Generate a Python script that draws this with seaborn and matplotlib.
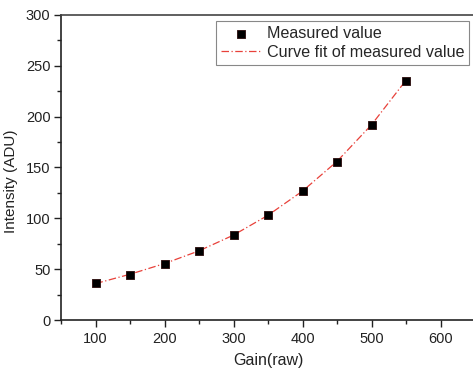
import matplotlib
matplotlib.use("Agg")
import matplotlib.pyplot as plt
import seaborn as sns
import pandas as pd
from matplotlib.ticker import MultipleLocator

gain = [100, 150, 200, 250, 300, 350, 400, 450, 500, 550]
measured = [36.1, 44.6, 55.1, 67.9, 83.9, 103.3, 126.6, 155.7, 191.8, 235.4]
fit = [35.8, 45.0, 55.5, 68.0, 83.5, 103.0, 126.8, 156.0, 192.0, 235.8]

df = pd.DataFrame({"gain": gain, "measured": measured, "fit": fit})

sns.set_style("ticks")
plt.rcParams["font.family"] = ["Liberation Sans", "DejaVu Sans"]

W, H = 473, 370
fig = plt.figure(figsize=(W / 100, H / 100), dpi=100)
ax = fig.add_axes([61 / W, 50 / H, 414 / W, (320 - 15) / H])

sns.lineplot(data=df, x="gain", y="fit", ax=ax, color="#e8413a", linewidth=0.9,
             linestyle=(0, (6, 2, 1, 2)), label="Curve fit of measured value", zorder=2)
sns.scatterplot(data=df, x="gain", y="measured", ax=ax, marker="s", s=30,
                color="black", edgecolor="#2a0a0a", linewidth=0.6,
                label="Measured value", zorder=3)

ax.set_xlim(50, 650)
ax.set_ylim(0, 300)
ax.xaxis.set_major_locator(MultipleLocator(100))
ax.xaxis.set_minor_locator(MultipleLocator(50))
ax.yaxis.set_major_locator(MultipleLocator(50))
ax.yaxis.set_minor_locator(MultipleLocator(25))
ax.tick_params(which="major", length=5, width=1, labelsize=10.5, colors="#222222", direction="out")
ax.tick_params(which="minor", length=3, width=1, direction="out", colors="#222222")
ax.tick_params(axis="y", which="major", pad=2.5)
for s in ax.spines.values():
    s.set_linewidth(1.2)
    s.set_color("#222222")
ax.spines["top"].set_color("#444444")
ax.spines["right"].set_visible(False)

ax.set_xlabel("Gain(raw)", fontsize=11.5, color="#222222", labelpad=5)
ax.set_ylabel("Intensity (ADU)", fontsize=11, color="#222222", labelpad=5)
ax.yaxis.set_label_coords(-0.105, 0.456)

handles, labels = ax.get_legend_handles_labels()
order = [labels.index("Measured value"), labels.index("Curve fit of measured value")]
leg = ax.legend([handles[i] for i in order], [labels[i] for i in order],
                loc="upper right", bbox_to_anchor=(469 / W, 1 - 21 / H),
                bbox_transform=fig.transFigure, fontsize=11.6,
                frameon=True, fancybox=False, edgecolor="#888888", framealpha=1,
                borderpad=0.3, handlelength=2.5, handletextpad=0.35, labelspacing=0.25,
                borderaxespad=0.0)
leg.get_frame().set_linewidth(0.8)

fig.savefig("out.png", dpi=100)
